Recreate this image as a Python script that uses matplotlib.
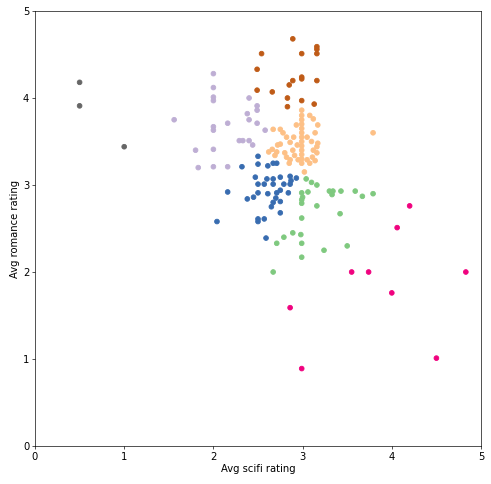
import matplotlib
matplotlib.use("Agg")
import matplotlib.pyplot as plt
import numpy as np

# cluster 0: green
g_sci = [3.04, 3.10, 3.16, 2.99, 3.06, 3.00, 2.99, 2.99, 3.16, 3.30, 3.34, 3.33, 3.43, 3.59, 3.67, 3.79,
         3.42, 2.99, 2.89, 2.98, 2.79, 2.71, 2.99, 3.24, 3.50, 2.99, 2.67]
g_rom = [3.07, 3.03, 3.00, 2.91, 2.92, 2.86, 2.83, 2.79, 2.76, 2.93, 2.93, 2.89, 2.93, 2.93, 2.87, 2.90,
         2.67, 2.62, 2.45, 2.43, 2.40, 2.33, 2.33, 2.25, 2.30, 2.17, 2.00]
# cluster 1: lavender
l_sci = [1.56, 2.00, 2.00, 2.00, 2.00, 2.40, 2.38, 2.40, 2.49, 2.49, 2.49, 2.58, 2.16, 2.00, 2.00,
         2.29, 2.33, 2.40, 2.44, 1.80, 2.00, 1.83, 2.00, 2.16]
l_rom = [3.75, 4.28, 4.12, 4.01, 3.97, 4.00, 3.82, 3.75, 3.91, 3.86, 3.71, 3.63, 3.71, 3.67, 3.63,
         3.51, 3.51, 3.51, 3.46, 3.40, 3.41, 3.20, 3.21, 3.21]
# cluster 2: peach
p_sci = [2.99, 2.99, 2.99, 2.99, 2.99, 2.99, 2.99, 2.99, 2.99, 2.99, 2.99, 2.99, 2.99,
         3.08, 3.12, 3.17, 3.14, 2.93, 2.67, 2.75, 2.78, 2.82, 2.86, 2.75, 2.66, 2.71, 2.69,
         2.80, 2.82, 2.86, 2.89, 2.91, 2.95, 3.05, 3.11, 3.16, 3.17, 3.16, 3.12, 3.08, 3.02,
         3.79, 2.62, 2.90, 2.94, 3.05, 3.10, 3.14, 2.72, 2.85]
p_rom = [3.86, 3.80, 3.75, 3.70, 3.65, 3.60, 3.55, 3.50, 3.45, 3.40, 3.35, 3.30, 3.25,
         3.80, 3.76, 3.69, 3.60, 3.69, 3.64, 3.64, 3.60, 3.55, 3.49, 3.47, 3.41, 3.38, 3.34,
         3.37, 3.32, 3.29, 3.40, 3.34, 3.29, 3.29, 3.32, 3.44, 3.48, 3.37, 3.40, 3.25, 3.15,
         3.60, 3.38, 3.55, 3.46, 3.55, 3.50, 3.28, 3.46, 3.25]
# cluster 3: blue
b_sci = [2.50, 2.50, 2.61, 2.67, 2.71, 2.32, 2.47, 2.50, 2.57, 2.60, 2.67, 2.67, 2.75, 2.79, 2.86,
         2.87, 2.93, 2.86, 2.16, 2.38, 2.45, 2.50, 2.61, 2.71, 2.75, 2.84, 2.70, 2.67, 2.65, 2.75,
         2.75, 2.50, 2.50, 2.57, 2.04, 2.59]
b_rom = [3.33, 3.24, 3.22, 3.25, 3.25, 3.21, 3.09, 3.01, 3.01, 3.07, 3.07, 3.01, 3.09, 3.01, 3.10,
         3.05, 3.08, 3.01, 2.92, 2.84, 2.86, 2.91, 2.90, 2.91, 2.94, 2.91, 2.85, 2.80, 2.75, 2.81,
         2.68, 2.61, 2.58, 2.61, 2.58, 2.39]
# cluster 4: magenta
m_sci = [4.20, 4.06, 3.55, 3.74, 4.83, 4.00, 2.86, 4.50, 2.99]
m_rom = [2.76, 2.51, 2.00, 2.00, 2.00, 1.76, 1.59, 1.01, 0.89]
# cluster 5: brown
r_sci = [2.89, 3.16, 3.16, 3.16, 2.99, 2.54, 2.49, 2.89, 2.85, 2.99, 2.99, 3.16, 2.49, 2.66,
         2.83, 2.83, 2.99, 3.13]
r_rom = [4.68, 4.59, 4.56, 4.51, 4.51, 4.51, 4.33, 4.20, 4.15, 4.24, 4.22, 4.20, 4.09, 4.07,
         4.00, 3.90, 3.97, 3.93]
# cluster 6: grey
k_sci = [0.50, 0.50, 1.00]
k_rom = [4.18, 3.91, 3.44]

groups = [(g_sci, g_rom), (l_sci, l_rom), (p_sci, p_rom), (b_sci, b_rom),
          (m_sci, m_rom), (r_sci, r_rom), (k_sci, k_rom)]
xs, ys, labels = [], [], []
for i, (sx, sy) in enumerate(groups):
    xs += sx
    ys += sy
    labels += [i] * len(sx)

fig = plt.figure(figsize=(491 / 60, 484 / 60), dpi=60)
ax = fig.add_axes([35 / 491, 38 / 484, 446 / 491, 435 / 484])
ax.scatter(xs, ys, c=labels, cmap='Accent', s=32)
ax.set_xlim(0, 5)
ax.set_ylim(0, 5)
ax.set_xlabel('Avg scifi rating', fontsize=12, labelpad=3)
ax.set_ylabel('Avg romance rating', fontsize=12, labelpad=3)
ax.tick_params(labelsize=12)
fig.savefig('out.png', dpi=60)
